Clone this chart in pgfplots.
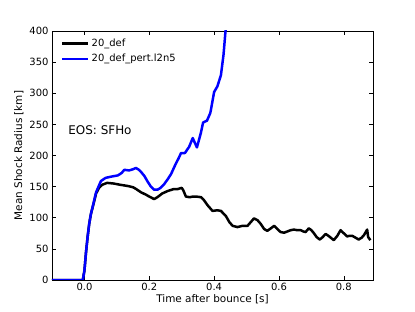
\documentclass[border=0pt]{standalone}
\usepackage{fontspec}
\setmainfont{DejaVu Sans}
\usepackage{pgfplots}
\pgfplotsset{compat=1.18}
\pgfplotstableread{
x y
-0.1 0
-0.005 0
0.0 15
0.005 45
0.01 70
0.015 91
0.02 106
0.026 118
0.036 139
0.045 148
0.055 153
0.07 156
0.09 155
0.11 153
0.134 151
0.15 149
0.16 146
0.174 141
0.19 137
0.2 134
0.215 130
0.225 133
0.24 139
0.257 143
0.275 146
0.287 146
0.3 148
0.305 144
0.313 134
0.325 133
0.334 134
0.345 134
0.36 133
0.369 128
0.38 120
0.395 111
0.41 112
0.421 111
0.436 103
0.447 93
0.457 87
0.472 85
0.487 87
0.503 87
0.513 93
0.523 99
0.534 96
0.544 90
0.554 82
0.564 79
0.575 83
0.585 87
0.595 82
0.605 77
0.616 76
0.626 78
0.636 80
0.646 81
0.657 80
0.667 80
0.675 78
0.682 77
0.692 83
0.7 80
0.708 75
0.716 69
0.726 65
0.735 69
0.744 74
0.755 70
0.769 64
0.78 71
0.79 80
0.8 75
0.81 70
0.818 71
0.826 71
0.836 68
0.846 65
0.855 68
0.862 72
0.872 81
0.875 69
0.882 64
}\black
\pgfplotstableread{
x y
-0.1 0
-0.005 0
0.0 15
0.005 45
0.01 70
0.015 91
0.02 106
0.026 119
0.036 141
0.045 152
0.051 159
0.065 164
0.082 166
0.103 168
0.115 172
0.123 177
0.138 176
0.15 178
0.159 180
0.168 177
0.174 174
0.185 167
0.195 158
0.205 150
0.215 145
0.225 145
0.235 148
0.246 154
0.257 162
0.267 170
0.282 187
0.29 195
0.298 204
0.31 204
0.323 214
0.334 228
0.347 213
0.359 236
0.366 253
0.378 256
0.388 268
0.39 273
0.4 302
0.41 311
0.421 329
0.429 362
0.435 399
0.44 430
}\blue
\begin{document}
\begin{tikzpicture}
\begin{axis}[
  name=ax,
  scale only axis,
  width=321bp, height=249bp,
  xmin=-0.1, xmax=0.89,
  ymin=0, ymax=400,
  xtick={0,0.2,0.4,0.6,0.8},
  ytick={0,50,...,400},
  xticklabel style={/pgf/number format/fixed,/pgf/number format/fixed zerofill,/pgf/number format/precision=1},
  tick align=inside,
  major tick length=4bp,
  tick style={black, line width=0.6pt},
  axis line style={line width=0.8pt},
  /pgf/number format/assume math mode=true,
  ticklabel style={font=\fontsize{10}{12}\selectfont},
  xlabel={Time after bounce [s]},
  ylabel={Mean Shock Radius [km]},
  label style={font=\fontsize{10.5}{12}\selectfont},
  xlabel style={yshift=3bp},
  ylabel style={yshift=-1bp},
  legend style={draw=none, fill=none, inner sep=0pt, at={(0,1)}, xshift=9bp, yshift=-6bp, anchor=north west, font=\fontsize{10}{12}\selectfont, row sep=2bp},
  legend cell align=left,
  legend image code/.code={\draw[#1, line width=2.5pt] (0bp,0bp) -- (16bp,0bp); \path (0bp,0bp) -- (26bp,0bp);},
  clip=true,
]
\addplot[black, line width=2.5pt, line join=round] table[x=x,y=y] {\black};
\addlegendentry{20\_def}
\addplot[blue, line width=2.5pt, line join=round] table[x=x,y=y] {\blue};
\addlegendentry{20\_def\_pert.l2n5}
\node[anchor=west, inner sep=0pt, font=\fontsize{12}{14}\selectfont] at (axis cs:-0.05,241) {EOS: SFHo};
\end{axis}
\pgfresetboundingbox
\path ([shift={(-52bp,-32bp)}]ax.south west) rectangle ([shift={(42bp,31bp)}]ax.north east);
\end{tikzpicture}
\end{document}
